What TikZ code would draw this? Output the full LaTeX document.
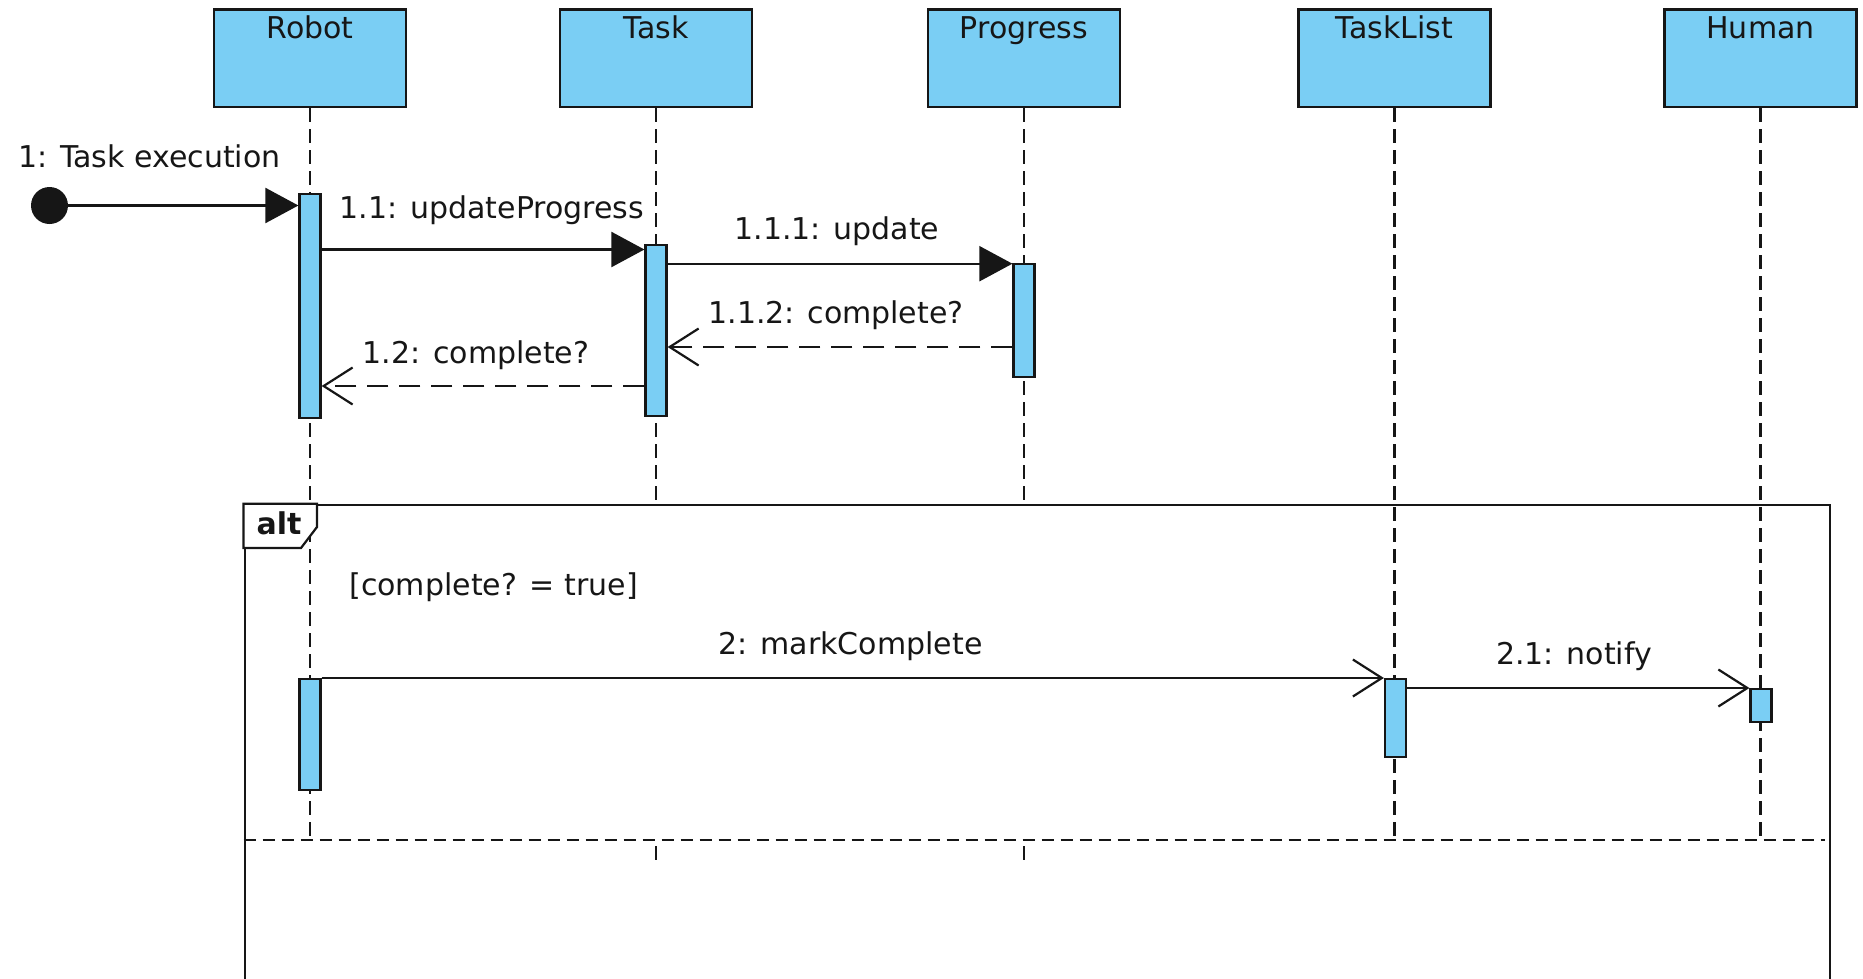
\documentclass[tikz,border=0pt]{standalone}
\usepackage{fontspec}
\setmainfont{DejaVu Sans}
\usetikzlibrary{arrows.meta,calc}
\definecolor{lifefill}{RGB}{122,206,244}
\definecolor{ink}{RGB}{22,22,22}

\begin{document}
\begin{tikzpicture}[x=1pt,y=-1pt,
  every node/.style={font=\fontsize{30}{36}\selectfont, text=ink},
  head/.style={draw=ink, line width=2.4pt, fill=lifefill, rectangle,
    minimum width=192pt, inner xsep=0pt, inner ysep=0pt,
    text height=28.7pt, text depth=68.7pt, anchor=north},
  act/.style={draw=ink, line width=2.2pt, fill=lifefill, rectangle,
    minimum width=21pt, inner sep=0pt, anchor=north},
  lifeline/.style={draw=ink, line width=2.2pt, dash pattern=on 14pt off 7pt},
  sepline/.style={draw=ink, line width=2.2pt, dash pattern=on 12pt off 7pt},
  sync/.style={draw=ink, line width=2.2pt, -{Triangle[length=33pt,width=35pt]}},
  async/.style={draw=ink, line width=2.2pt, -{Straight Barb[length=29pt,width=37pt]}},
  reply/.style={async, dash pattern=on 21pt off 11pt},
  msg/.style={anchor=base, inner sep=0pt},
]
\useasboundingbox (0,0) rectangle (1863,978);
\clip (0,0) rectangle (1863,978);

% lifeline heads
\node[head] (robot)    at (310,8.3)    {Robot};
\node[head] (task)     at (656,8.3)    {Task};
\node[head] (progress) at (1024,8.3)   {Progress};
\node[head] (tasklist) at (1394.5,8.3) {TaskList};
\node[head] (human)    at (1760.5,8.3) {Human};

% message rows and frame levels
\coordinate (rowA) at (0,205.5);
\coordinate (rowB) at (0,249.5);
\coordinate (rowC) at (0,263.7);
\coordinate (rowD) at (0,347);
\coordinate (rowE) at (0,386);
\coordinate (rowF) at (0,678);
\coordinate (rowG) at (0,688);
\coordinate (sep)   at (0,840);
\coordinate (tickA) at (0,846);
\coordinate (tickB) at (0,860);

% combined fragment frame
\node[draw=ink, line width=2.2pt, rectangle, inner sep=0pt, anchor=north west,
      minimum width=1585pt, minimum height=560pt] (altframe) at (243.5,503.7) {};

% lifelines
\draw[lifeline] (robot.south) -- (robot.south |- sep);
\draw[lifeline] (task.south) -- (task.south |- altframe.north);
\draw[lifeline] (progress.south) -- (progress.south |- altframe.north);
\draw[lifeline] (tasklist.south) -- (tasklist.south |- sep);
\draw[lifeline] (human.south) -- (human.south |- sep);
\draw[draw=ink, line width=2.2pt] (task.south |- tickA) -- (task.south |- tickB);
\draw[draw=ink, line width=2.2pt] (progress.south |- tickA) -- (progress.south |- tickB);

% operand separator
\draw[sepline] (altframe.west |- sep) -- ($(altframe.east |- sep)+(-6,0)$);

% fragment tab
\draw[draw=ink, line width=2.2pt, fill=white]
  (altframe.north west) -- (317,503.7) -- (317,527) -- (301,548) -- (altframe.west |- 0,548) -- cycle;
\node[anchor=base, inner sep=0pt, font=\fontsize{30}{36}\selectfont\bfseries] (altlabel) at (279,534) {alt};

% activations
\node[act, minimum height=224.5pt] (ra1) at (310,192.5) {};
\node[act, minimum height=171pt]   (ta1) at (656,243.5) {};
\node[act, minimum height=113pt]   (pa1) at (1024,262.5) {};
\node[act, minimum height=111pt]   (ra2) at (310,678) {};
\node[act, minimum height=77.6pt]  (la1) at (1395.5,678) {};
\node[act, minimum height=33pt]    (ha1) at (1761,688) {};

% found message
\node[circle, fill=ink, minimum size=37pt, inner sep=0pt] (start) at (49.5,205.5) {};
\draw[sync] (start) -- (start -| ra1.west);
\node[anchor=base west, inner sep=0pt] (l1) at (18,167) {1: Task execution};

% messages
\draw[sync] (ra1.east |- rowB) -- (ta1.west |- rowB);
\node[msg] (l11) at (492,218) {1.1: updateProgress};

\draw[sync] (ta1.east |- rowC) -- (pa1.west |- rowC);
\node[msg] (l111) at (837,239) {1.1.1: update};

\draw[reply] (pa1.west |- rowD) -- (ta1.east |- rowD);
\node[msg] (l112) at (836,323) {1.1.2: complete?};

\draw[reply] (ta1.west |- rowE) -- (ra1.east |- rowE);
\node[msg] (l12) at (476,363) {1.2: complete?};

\node[msg] (guard) at (493.6,595) {[complete? = true]};

\draw[async] (ra2.east |- rowF) -- (la1.west |- rowF);
\node[msg] (l2) at (850.6,654) {2: markComplete};

\draw[async] (la1.east |- rowG) -- (ha1.west |- rowG);
\node[msg] (l21) at (1574,664) {2.1: notify};
\end{tikzpicture}
\end{document}
